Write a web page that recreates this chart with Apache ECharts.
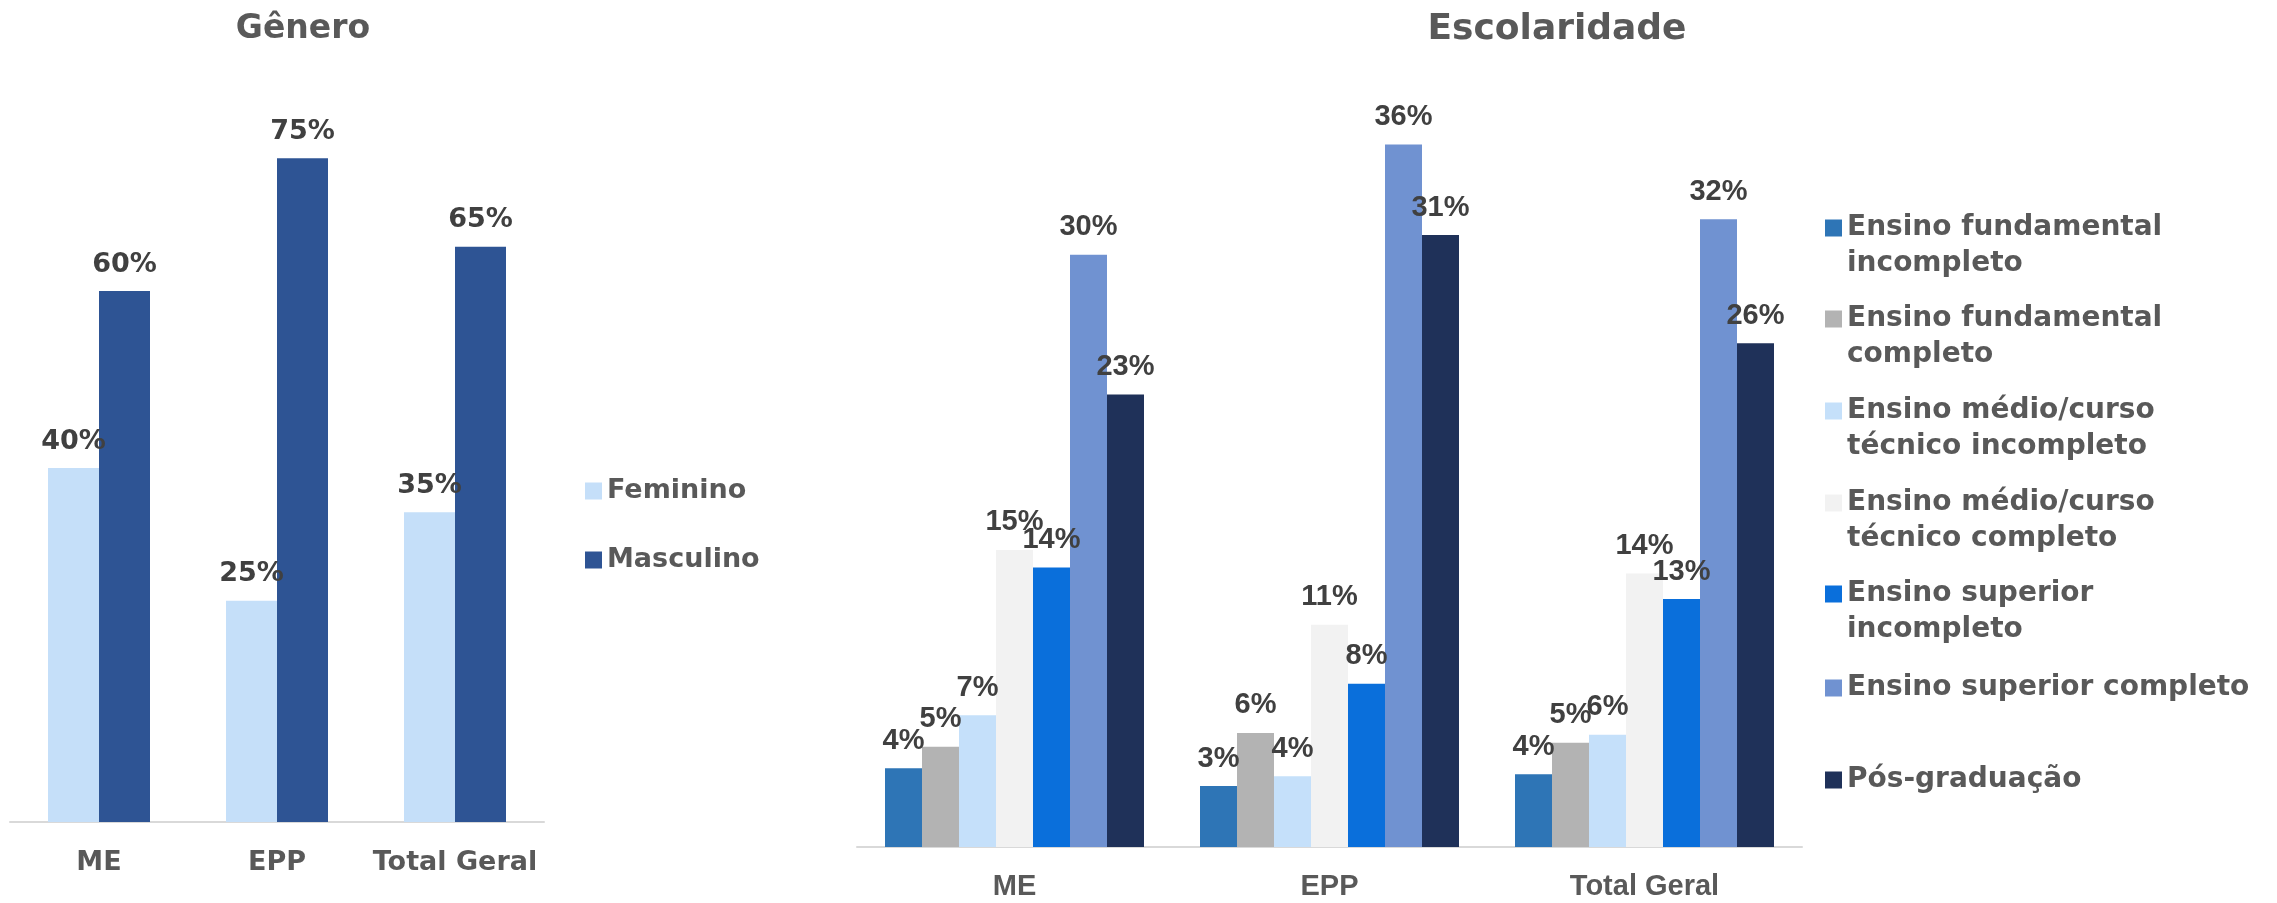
<!DOCTYPE html>
<html>
<head>
<meta charset="utf-8">
<script src="https://cdn.jsdelivr.net/npm/echarts@6/dist/echarts.min.js"></script>
<style>
  html, body { margin: 0; padding: 0; background: #fff; }
  #chart { width: 2277px; height: 903px; }
</style>
</head>
<body>
<div id="chart"></div>
<script>
// * Gênero / Escolaridade

const chart = echarts.init(document.getElementById('chart'))

const categories = ['ME', 'EPP', 'Total Geral']

// gênero (%)
const generoNames = ['Feminino', 'Masculino']
const feminino = [40, 25, 35]
const masculino = [60, 75, 65]

// escolaridade (%)
const escolaridadeNames = [
  'Ensino fundamental\nincompleto',
  'Ensino fundamental\ncompleto',
  'Ensino médio/curso\ntécnico incompleto',
  'Ensino médio/curso\ntécnico completo',
  'Ensino superior\nincompleto',
  'Ensino superior completo',
  'Pós-graduação'
]
const fundIncompleto = [4.0, 3.1, 3.7]
const fundCompleto = [5.1, 5.8, 5.3]
const medioIncompleto = [6.7, 3.6, 5.7]
const medioCompleto = [15.1, 11.3, 13.9]
const superiorIncompleto = [14.2, 8.3, 12.6]
const superiorCompleto = [30.1, 35.7, 31.9]
const posGraduacao = [23.0, 31.1, 25.6]
const escolaridadeData = [fundIncompleto, fundCompleto, medioIncompleto, medioCompleto,
  superiorIncompleto, superiorCompleto, posGraduacao]

const generoColors = ['#C5DFF9', '#2E5494']
const escolaridadeColors = ['#2E75B6', '#B3B3B3', '#C5E0FA', '#F2F2F2', '#0A6FDB', '#7092D1', '#1F3159']

const grey = '#595959'
const wide = '"DejaVu Sans", sans-serif'
const narrow = '"Liberation Sans", Arial, sans-serif'
const pct = p => Math.round(p.value) + '%'

// posição vertical (centro do marcador) de cada item da legenda da direita
const legendCenters = [228, 319, 411, 503, 594, 688, 780]

// uma legenda por item: o marcador fica alinhado com a primeira linha do texto
const rightLegends = escolaridadeNames.map((name, i) => {
  const twoLines = name.indexOf('\n') >= 0
  return {
    orient: 'vertical',
    left: 1820,
    top: legendCenters[i] - (twoLines ? 59 : 23),
    itemWidth: 17,
    itemHeight: 17,
    icon: 'rect',
    data: [name],
    // linha vazia no início para centrar a primeira linha no marcador
    formatter: n => (twoLines ? '\n' : '') + n,
    textStyle: {
      color: grey,
      fontFamily: wide,
      fontWeight: 'bold',
      fontSize: 28,
      lineHeight: 36
    }
  }
})

const option = {
  animation: false,
  backgroundColor: '#fff',
  title: [
    {
      text: 'Gênero',
      left: 298,
      top: 8,
      textAlign: 'center',
      textStyle: { color: grey, fontFamily: wide, fontWeight: 'bold', fontSize: 33 }
    },
    {
      text: 'Escolaridade',
      left: 1552,
      top: 7,
      textAlign: 'center',
      textStyle: { color: grey, fontFamily: wide, fontWeight: 'bold', fontSize: 36 }
    }
  ],
  legend: [
    {
      orient: 'vertical',
      left: 580,
      top: 470,
      itemWidth: 17,
      itemHeight: 17,
      itemGap: 37,
      icon: 'rect',
      data: generoNames,
      textStyle: { color: grey, fontFamily: wide, fontWeight: 'bold', fontSize: 27, lineHeight: 32 }
    },
    ...rightLegends
  ],
  grid: [
    { left: 10, width: 534, top: 114, bottom: 81 },
    { left: 857, width: 945, top: 60, bottom: 56 }
  ],
  xAxis: [0, 1].map(i => ({
    type: 'category',
    gridIndex: i,
    data: categories,
    axisLine: { lineStyle: { color: '#D9D9D9', width: 2 } },
    axisTick: { show: false },
    axisLabel: {
      interval: 0,
      color: grey,
      fontWeight: 'bold',
      fontFamily: i === 0 ? wide : narrow,
      fontSize: i === 0 ? 27 : 29,
      margin: i === 0 ? 27 : 25
    }
  })),
  yAxis: [
    { type: 'value', gridIndex: 0, min: 0, max: 80, show: false },
    { type: 'value', gridIndex: 1, min: 0, max: 40, show: false }
  ],
  series: [
    ...[feminino, masculino].map((data, i) => ({
      name: generoNames[i],
      type: 'bar',
      xAxisIndex: 0,
      yAxisIndex: 0,
      data: data,
      barWidth: 51,
      barGap: '0%',
      itemStyle: { color: generoColors[i] },
      label: {
        show: true,
        position: 'top',
        distance: 13,
        formatter: pct,
        color: '#404040',
        fontFamily: wide,
        fontWeight: 'bold',
        fontSize: 27
      }
    })),
    ...escolaridadeData.map((data, i) => ({
      name: escolaridadeNames[i],
      type: 'bar',
      xAxisIndex: 1,
      yAxisIndex: 1,
      data: data,
      barWidth: 37,
      barGap: '0%',
      itemStyle: { color: escolaridadeColors[i] },
      label: {
        show: true,
        position: 'top',
        distance: 13,
        formatter: pct,
        color: '#404040',
        fontFamily: narrow,
        fontWeight: 'bold',
        fontSize: 29
      }
    }))
  ]
}

chart.setOption(option)
</script>
</body>
</html>
